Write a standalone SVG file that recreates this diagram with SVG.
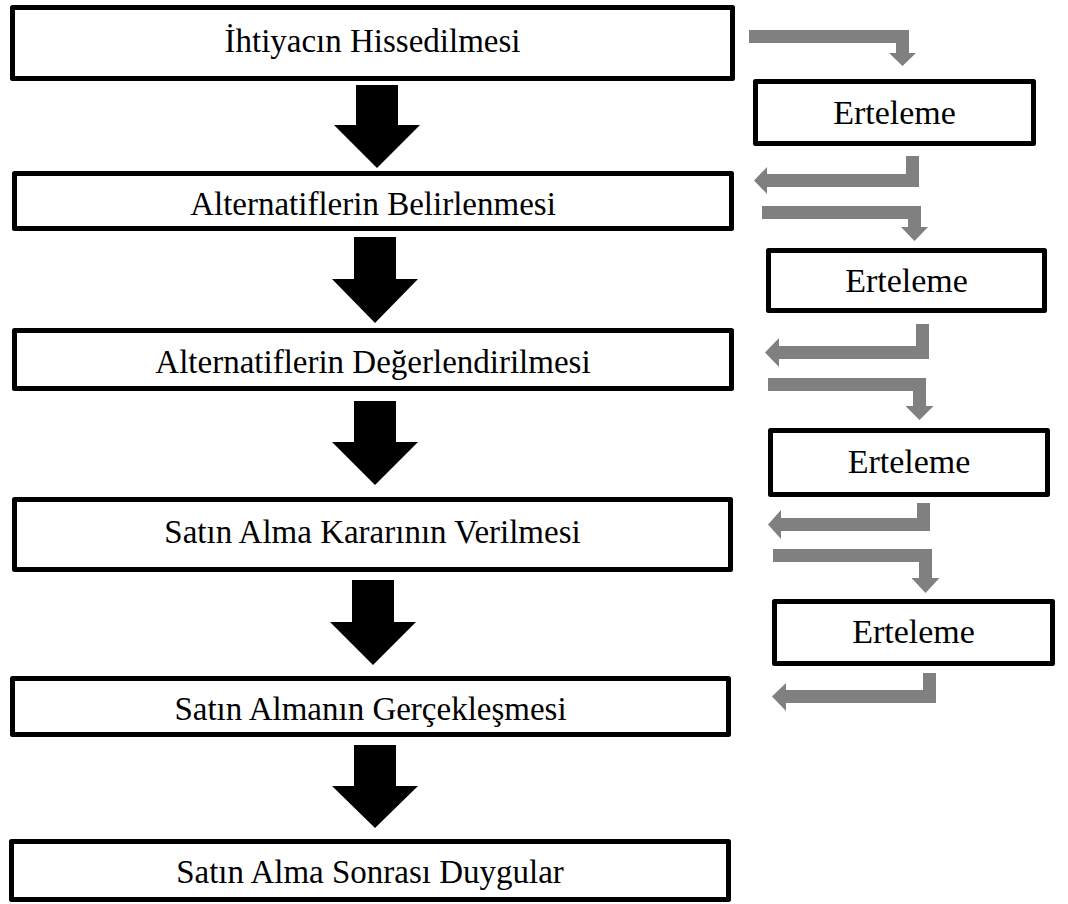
<svg xmlns="http://www.w3.org/2000/svg" width="1068" height="904" viewBox="0 0 1068 904">
  <style>
    .box { fill: #ffffff; stroke: #000000; stroke-width: 5; stroke-linejoin: round; }
    .lbl { font-family: "Liberation Serif", "Times New Roman", serif; font-size: 33px; fill: #000000; text-anchor: middle; }
    .small { font-size: 34px; }
    .down { fill: #000000; }
    .loop { fill: #808080; }
  </style>
  <rect width="1068" height="904" fill="#ffffff"/>

  <!-- main stages -->
  <g id="stage1">
    <rect class="box" x="12.5" y="7.5" width="720" height="71"/>
    <text class="lbl" x="372.5" y="52">İhtiyacın Hissedilmesi</text>
  </g>
  <g id="stage2">
    <rect class="box" x="14.5" y="173.5" width="717" height="55"/>
    <text class="lbl" x="373" y="215">Alternatiflerin Belirlenmesi</text>
  </g>
  <g id="stage3">
    <rect class="box" x="14.5" y="330.5" width="717" height="58"/>
    <text class="lbl" x="373" y="373">Alternatiflerin Değerlendirilmesi</text>
  </g>
  <g id="stage4">
    <rect class="box" x="14.5" y="499.5" width="716" height="70"/>
    <text class="lbl" x="372.5" y="543">Satın Alma Kararının Verilmesi</text>
  </g>
  <g id="stage5">
    <rect class="box" x="12.5" y="678.5" width="716" height="56"/>
    <text class="lbl" x="370.5" y="720">Satın Almanın Gerçekleşmesi</text>
  </g>
  <g id="stage6">
    <rect class="box" x="11.5" y="841.5" width="717" height="58"/>
    <text class="lbl" x="370" y="883">Satın Alma Sonrası Duygular</text>
  </g>

  <!-- postponement boxes -->
  <g id="delay1">
    <rect class="box" x="755.5" y="81.5" width="278" height="62"/>
    <text class="lbl small" x="894.5" y="124">Erteleme</text>
  </g>
  <g id="delay2">
    <rect class="box" x="768.5" y="250.5" width="276" height="60"/>
    <text class="lbl small" x="906.5" y="292">Erteleme</text>
  </g>
  <g id="delay3">
    <rect class="box" x="770.5" y="430.5" width="277" height="64"/>
    <text class="lbl small" x="909" y="473">Erteleme</text>
  </g>
  <g id="delay4">
    <rect class="box" x="774.5" y="601.5" width="278" height="62"/>
    <text class="lbl small" x="913.5" y="643">Erteleme</text>
  </g>

  <g id="connectors">
    <!-- block arrows between stages -->
    <polygon class="down" points="356,85 398,85 398,125 420,125 377,168 334,125 356,125"/>
    <polygon class="down" points="354,237 396,237 396,279 418,279 375,323 332,279 354,279"/>
    <polygon class="down" points="354,401 396,401 396,442 418,442 375,485 332,442 354,442"/>
    <polygon class="down" points="352,580 394,580 394,622 416,622 373,665 330,622 352,622"/>
    <polygon class="down" points="354,745 396,745 396,786 418,786 375,828 332,786 354,786"/>

    <!-- stage to postponement -->
    <polygon class="loop" points="749,30 909,30 909,53 916,53 902.5,66 889,53 896,53 896,43 749,43"/>
    <polygon class="loop" points="762,206 921,206 921,227 928,227 914.5,241 901,227 908,227 908,219 762,219"/>
    <polygon class="loop" points="768,378 926,378 926,406 933.5,406 919.5,420 905.5,406 913,406 913,391 768,391"/>
    <polygon class="loop" points="773,549 932,549 932,578 939.5,578 925.5,593 911.5,578 919,578 919,562 773,562"/>

    <!-- postponement back to stage -->
    <polygon class="loop" points="919,156 919,187 767,187 767,194 754,180.5 767,167 767,174 906,174 906,156"/>
    <polygon class="loop" points="929,324 929,359 779,359 779,367 765,352.5 779,338 779,346 916,346 916,324"/>
    <polygon class="loop" points="930,503 930,531 781,531 781,539 768,524.5 781,510 781,518 917,518 917,503"/>
    <polygon class="loop" points="936,673 936,703 786,703 786,711 772,696.5 786,683 786,690 923,690 923,673"/>
  </g>
</svg>
